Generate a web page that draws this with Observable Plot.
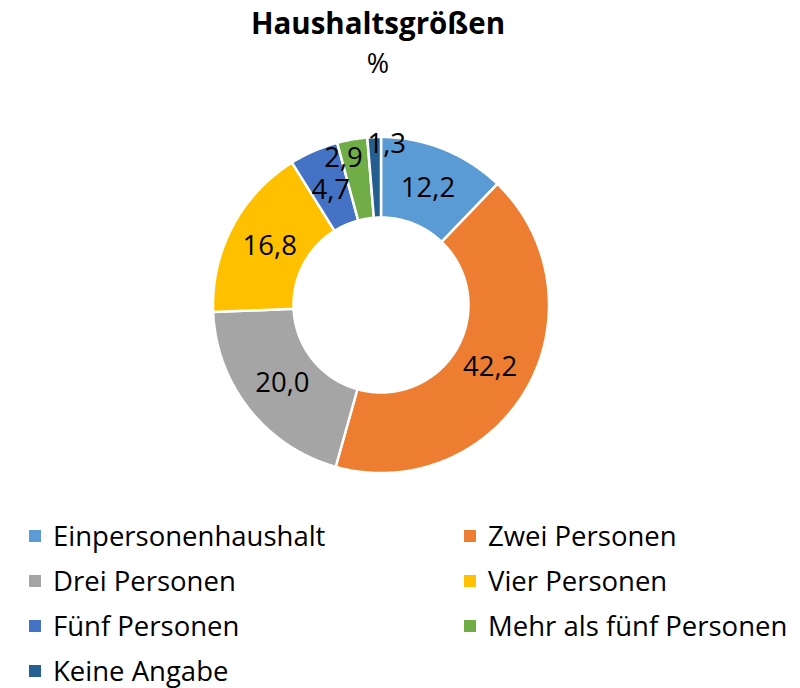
<!DOCTYPE html>
<html>
<head>
<meta charset="utf-8">
<script src="https://cdn.jsdelivr.net/npm/d3@7"></script>
<script src="https://cdn.jsdelivr.net/npm/@observablehq/plot@0.6"></script>
<style>
  html, body { margin: 0; padding: 0; background: #fff; }
  #wrap { position: relative; width: 800px; height: 688px; font-family: "Open Sans", sans-serif; color: #000; overflow: hidden; }
  #title { position: absolute; left: 0; top: 4px; width: 756px; text-align: center; font-weight: bold; font-size: 29.5px; line-height: 38px; }
  #subtitle { position: absolute; left: 0; top: 44px; width: 756px; text-align: center; font-size: 27px; line-height: 38px; }
  #chart { position: absolute; left: 0; top: 90px; }
  #legend { position: absolute; left: 29px; top: 513px; display: grid; grid-template-columns: 435px 336px; grid-auto-rows: 45px; align-items: center; font-size: 27.5px; }
  .item { display: flex; align-items: center; white-space: nowrap; }
  .sw { width: 12px; height: 12px; margin-right: 12px; flex: none; }
</style>
</head>
<body>
<div id="wrap">
  <div id="title"></div>
  <div id="subtitle"></div>
  <div id="chart"></div>
  <div id="legend"></div>
</div>
<script>
const title = "Haushaltsgrößen";
const subtitle = "%";
const categories = ["Einpersonenhaushalt", "Zwei Personen", "Drei Personen", "Vier Personen", "Fünf Personen", "Mehr als fünf Personen", "Keine Angabe"];
const values = [12.2, 42.2, 20.0, 16.8, 4.7, 2.9, 1.3];
const colors = ["#5B9BD5", "#ED7D31", "#A5A5A5", "#FFC000", "#4472C4", "#70AD47", "#255E91"];

document.getElementById("title").textContent = title;
document.getElementById("subtitle").textContent = subtitle;

const W = 800, H = 420;
const cx = 380.5, cy = 214.5;
const R = 168, r0 = 87.5;
const total = d3.sum(values);
const deg = Math.PI / 180;

// Build arc polygons (angle clockwise from 12 o'clock), in pixel-like data units
const polys = [];
const labelPts = [];
let cum = 0;
values.forEach((v, i) => {
  const a0 = cum / total * 2 * Math.PI;
  const a1 = (cum + v) / total * 2 * Math.PI;
  cum += v;
  const n = Math.max(4, Math.ceil((a1 - a0) / (Math.PI / 360)));
  const pts = [];
  for (let k = 0; k <= n; k++) {
    const a = a0 + (a1 - a0) * k / n;
    pts.push({ x: R * Math.sin(a), y: R * Math.cos(a) });
  }
  for (let k = n; k >= 0; k--) {
    const a = a0 + (a1 - a0) * k / n;
    pts.push({ x: r0 * Math.sin(a), y: r0 * Math.cos(a) });
  }
  pts.forEach((p, j) => polys.push({ ...p, key: categories[i], order: j }));
  // label at centroid; small slices nudged outward like "best fit"
  let am = (a0 + a1) / 2, rl = (R + r0) / 2 - 2;
  if (v < 2) { rl = 161; am += 4.4 * deg; }
  else if (v < 4) { rl = 152; am -= 4.4 * deg; }
  labelPts.push({ x: rl * Math.sin(am), y: rl * Math.cos(am), text: v.toFixed(1).replace(".", ",") });
});

const plot = Plot.plot({
  width: W,
  height: H,
  margin: 0,
  x: { domain: [-cx, W - cx], range: [0, W], axis: null },
  y: { domain: [-(H - cy), cy], range: [H, 0], axis: null },
  color: { domain: categories, range: colors },
  style: { background: "#fff", fontFamily: "'Open Sans', sans-serif" },
  marks: [
    Plot.line(polys, {
      x: "x", y: "y", z: "key", fill: "key",
      stroke: "white", strokeWidth: 2.5, curve: "linear-closed", strokeLinejoin: "miter"
    }),
    Plot.text(labelPts, {
      x: "x", y: "y", text: "text", fill: "#000", fontSize: 27.5,
      textAnchor: "middle", lineAnchor: "middle"
    })
  ]
});
document.getElementById("chart").appendChild(plot);

const legend = document.getElementById("legend");
categories.forEach((c, i) => {
  const item = document.createElement("div");
  item.className = "item";
  const sw = document.createElement("span");
  sw.className = "sw";
  sw.style.background = colors[i];
  const t = document.createElement("span");
  t.textContent = c;
  item.appendChild(sw);
  item.appendChild(t);
  legend.appendChild(item);
});
</script>
</body>
</html>
